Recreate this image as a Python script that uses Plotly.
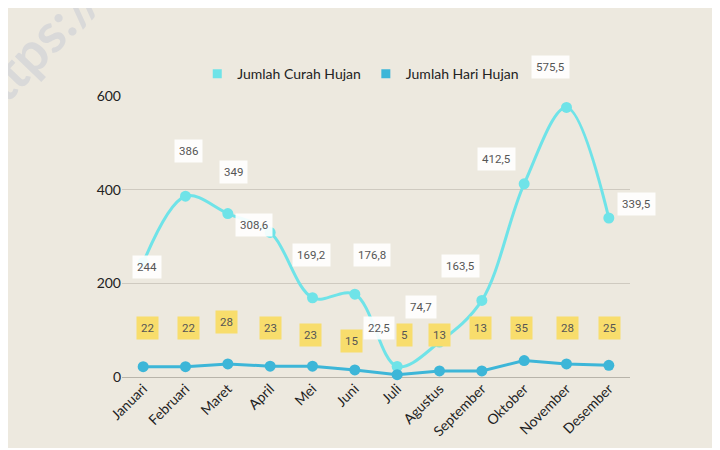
"""Curah hujan dan hari hujan per bulan."""

from __future__ import annotations

import plotly.graph_objects as go

bulan = [
    "Januari", "Februari", "Maret", "April", "Mei", "Juni",
    "Juli", "Agustus", "September", "Oktober", "November", "Desember",
]
curah_hujan = [244, 386, 349, 308.6, 169.2, 176.8, 22.5, 74.7, 163.5, 412.5, 575.5, 339.5]
hari_hujan = [22, 22, 28, 23, 23, 15, 5, 13, 13, 35, 28, 25]

# label offsets in pixels (dx, dy) so the boxes don't collide
curah_offsets = [(4, -4), (3, 45), (6, 42), (-16, 7), (-1, 43), (17, 39),
                 (-18, 38), (-19, 35), (-21, 34), (-28, 25), (-16, 40), (28, 14)]
hari_offsets = [(4, 39), (3, 39), (-1, 42), (0, 38), (-2, 31), (-3, 29),
                (7, 40), (0, 36), (-1, 43), (-3, 33), (1, 36), (1, 37)]

CURAH_COLOR = "#6FE3E8"
HARI_COLOR = "#3DB6D8"
BG = "#EDE9DF"


def fmt(v):
    if float(v).is_integer():
        return str(int(v))
    return str(v).replace(".", ",")


fig = go.Figure()

fig.add_trace(
    go.Scatter(
        x=bulan, y=curah_hujan, mode="lines+markers", name="Jumlah Curah Hujan",
        line={"color": CURAH_COLOR, "width": 3, "shape": "spline", "smoothing": 1.0},
        marker={"color": CURAH_COLOR, "size": 11},
        showlegend=False, cliponaxis=False,
    )
)
fig.add_trace(
    go.Scatter(
        x=bulan, y=hari_hujan, mode="lines+markers", name="Jumlah Hari Hujan",
        line={"color": HARI_COLOR, "width": 3},
        marker={"color": HARI_COLOR, "size": 11},
        showlegend=False, cliponaxis=False,
    )
)

# square legend markers
for name, color in [("Jumlah Curah Hujan", CURAH_COLOR), ("Jumlah Hari Hujan", HARI_COLOR)]:
    fig.add_trace(
        go.Scatter(x=[None], y=[None], mode="markers", name=name,
                   marker={"color": color, "size": 9, "symbol": "square"})
    )

annotations = []
for b, v, (dx, dy) in zip(bulan, curah_hujan, curah_offsets):
    annotations.append(dict(
        x=b, y=v, xref="x", yref="y", text=fmt(v), showarrow=False,
        xshift=dx, yshift=dy, bgcolor="rgba(255,255,255,0.9)", borderpad=4,
        font={"family": "Roboto", "size": 11.5, "color": "#555555"},
    ))
for b, v, (dx, dy) in zip(bulan, hari_hujan, hari_offsets):
    annotations.append(dict(
        x=b, y=v, xref="x", yref="y", text=fmt(v), showarrow=False,
        xshift=dx, yshift=dy, bgcolor="#F8DD6C", borderpad=4,
        font={"family": "Roboto", "size": 11.5, "color": "#555555"},
    ))

# faint watermark in the corner
annotations.append(dict(
    x=-0.18, y=1.162, xref="paper", yref="paper", text="<b>https://</b>", showarrow=False,
    textangle=-46, xanchor="center", yanchor="middle",
    font={"family": "Lato", "size": 54, "color": "#D9D9D9"},
))

# the page body adds 8px around the figure, so margins are shifted by that
fig.update_layout(
    width=720,
    height=450,
    margin={"l": 114, "r": 98, "t": 88, "b": 81, "autoexpand": False},
    paper_bgcolor="white",
    plot_bgcolor=BG,
    font={"family": "Lato", "color": "#222222"},
    showlegend=True,
    legend={
        "orientation": "h", "x": 0.47, "xanchor": "center", "y": 1.078, "yanchor": "middle",
        "font": {"size": 14, "color": "#222222"}, "bgcolor": "rgba(0,0,0,0)",
        "itemwidth": 30,
    },
    xaxis={
        "range": [-0.5, 11.5],
        "tickangle": -45, "tickfont": {"size": 14, "color": "#222222"},
        "showgrid": False, "showline": False, "ticks": "", "automargin": False,
    },
    yaxis={
        "range": [0, 600], "tickvals": [0, 200, 400, 600],
        "tickfont": {"size": 14, "color": "#222222"},
        "gridcolor": "#CFCAC0", "zeroline": True, "zerolinecolor": "#B8B4AA",
        "zerolinewidth": 1, "ticks": "", "ticklen": 0, "automargin": False,
    },
    annotations=annotations,
    shapes=[
        dict(type="rect", xref="paper", yref="paper", layer="below",
             x0=-0.2303, x1=1.1654, y0=-0.2527, y1=1.3167,
             fillcolor=BG, line={"width": 0}),
    ],
    hovermode=False,
)

fig.write_html("out.html")
